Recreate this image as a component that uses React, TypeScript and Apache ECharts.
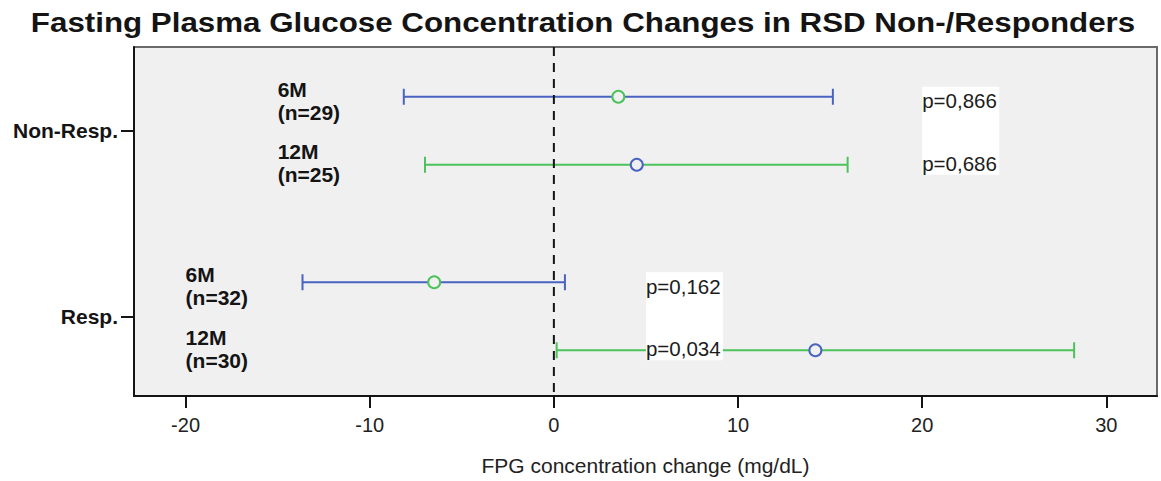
import React, { useEffect, useRef } from "react";
import * as echarts from "echarts";

// Groups (top to bottom) and follow-up periods
const GROUPS = ["Non-Resp.", "Resp."];
const PERIODS = ["6M", "12M"];
const SAMPLE_SIZE = [
  [29, 25],
  [32, 30],
];
// Mean FPG change with 95% CI bounds (mg/dL), per group and period
const MEAN_CHANGE = [
  [3.5, 4.5],
  [-6.5, 14.2],
];
const CI_LOWER = [
  [-8.15, -7.0],
  [-13.65, 0.15],
];
const CI_UPPER = [
  [15.15, 15.95],
  [0.6, 28.25],
];
const P_VALUES = [
  ["p=0,866", "p=0,686"],
  ["p=0,162", "p=0,034"],
];
const X_TICKS = [-20, -10, 0, 10, 20, 30];
const X_MIN = -22.8;
const X_MAX = 32.75;
// Where the period labels and p-value boxes sit, in axis units
const LABEL_AT = [-15, -20];
const PVALUE_AT = [20, 5];

const TITLE = "Fasting Plasma Glucose Concentration Changes in RSD Non-/Responders";
const FONT = "'Liberation Sans', Arial, Helvetica, sans-serif";
const BLUE = "#4a63c2";
const GREEN = "#4cc25a";
const INK = "#141414";
const ROW_OFFSET = 34;
const CAP = 8;

export default function App() {
  const ref = useRef<HTMLDivElement>(null);

  useEffect(() => {
    if (!ref.current) return;
    const chart = echarts.init(ref.current, undefined, { renderer: "svg" });

    const barData: number[][] = [];
    GROUPS.forEach((_, gi) =>
      PERIODS.forEach((__, pi) =>
        barData.push([CI_LOWER[gi][pi], CI_UPPER[gi][pi], MEAN_CHANGE[gi][pi], gi, pi])
      )
    );
    const noteData = GROUPS.map((_, gi) => [LABEL_AT[gi], PVALUE_AT[gi], gi]);

    const option: any = {
      animation: false,
      backgroundColor: "#ffffff",
      graphic: [
        {
          type: "text",
          x: 583,
          y: 23,
          scaleX: 1.16,
          style: {
            text: TITLE,
            fontSize: 27,
            fontWeight: "bold",
            fontFamily: FONT,
            fill: INK,
            align: "center",
            verticalAlign: "middle",
          },
        },
      ],
      grid: [
        {
          left: 134,
          right: 4,
          top: 47,
          bottom: 78,
          show: true,
          backgroundColor: "#f0f0f0",
          borderColor: "#6a6a6a",
          borderWidth: 2,
        },
        { left: 134, right: 4, top: 38, bottom: 72 },
      ],
      xAxis: [
        {
          type: "value",
          gridIndex: 0,
          min: X_MIN,
          max: X_MAX,
          splitLine: { show: false },
          axisLine: { show: true, onZero: false, lineStyle: { color: INK, width: 2 } },
          axisTick: {
            show: true,
            customValues: X_TICKS,
            length: 12,
            lineStyle: { color: INK, width: 2 },
          },
          axisLabel: {
            customValues: X_TICKS,
            fontSize: 20,
            fontFamily: FONT,
            color: "#222",
            margin: 19,
          },
          name: "FPG concentration change (mg/dL)",
          nameLocation: "middle",
          nameGap: 59,
          nameTextStyle: { fontSize: 21, fontFamily: FONT, color: "#222" },
        },
        { type: "value", gridIndex: 1, min: X_MIN, max: X_MAX, show: false },
      ],
      yAxis: [
        {
          type: "value",
          gridIndex: 0,
          min: 0,
          max: 1,
          splitLine: { show: false },
          axisLine: { show: true, onZero: false, lineStyle: { color: INK, width: 2 } },
          axisTick: { show: false },
          axisLabel: { show: false },
        },
        {
          type: "category",
          gridIndex: 1,
          data: GROUPS,
          inverse: true,
          axisLine: { show: false, onZero: false },
          axisTick: {
            show: true,
            alignWithLabel: true,
            length: 13,
            lineStyle: { color: INK, width: 2 },
          },
          axisLabel: {
            fontSize: 21,
            fontWeight: "bold",
            fontFamily: FONT,
            color: INK,
            margin: 16,
          },
          splitLine: { show: false },
        },
      ],
      series: [
        {
          // reference line at zero change
          type: "custom",
          xAxisIndex: 0,
          yAxisIndex: 0,
          z: 5,
          silent: true,
          data: [[0]],
          encode: { x: 0 },
          renderItem: (params: any, api: any) => {
            const cs = params.coordSys;
            const x = api.coord([api.value(0), 0])[0];
            return {
              type: "line",
              shape: { x1: x, y1: cs.y, x2: x, y2: cs.y + cs.height },
              style: { stroke: INK, lineWidth: 2, lineDash: [9, 7] },
            };
          },
        },
        {
          // confidence intervals with mean markers
          type: "custom",
          xAxisIndex: 1,
          yAxisIndex: 1,
          z: 3,
          silent: true,
          data: barData,
          encode: { x: [0, 1, 2], y: 3 },
          renderItem: (_params: any, api: any) => {
            const gi = api.value(3);
            const pi = api.value(4);
            const yc = api.coord([0, gi])[1] + (pi === 0 ? -ROW_OFFSET : ROW_OFFSET);
            const xl = api.coord([api.value(0), gi])[0];
            const xh = api.coord([api.value(1), gi])[0];
            const xm = api.coord([api.value(2), gi])[0];
            const lineColor = pi === 0 ? BLUE : GREEN;
            const markColor = pi === 0 ? GREEN : BLUE;
            const ls = { stroke: lineColor, lineWidth: 2 };
            return {
              type: "group",
              children: [
                { type: "line", shape: { x1: xl, y1: yc, x2: xh, y2: yc }, style: ls },
                { type: "line", shape: { x1: xl, y1: yc - CAP, x2: xl, y2: yc + CAP }, style: ls },
                { type: "line", shape: { x1: xh, y1: yc - CAP, x2: xh, y2: yc + CAP }, style: ls },
                {
                  type: "circle",
                  shape: { cx: xm, cy: yc, r: 6 },
                  style: { fill: "#f0f0f0", stroke: markColor, lineWidth: 2 },
                },
              ],
            };
          },
        },
        {
          // period labels and p-value boxes
          type: "custom",
          xAxisIndex: 1,
          yAxisIndex: 1,
          z: 6,
          silent: true,
          data: noteData,
          encode: { x: [0, 1], y: 2 },
          renderItem: (_params: any, api: any) => {
            const gi = api.value(2);
            const yc = api.coord([0, gi])[1];
            const y6 = yc - ROW_OFFSET;
            const y12 = yc + ROW_OFFSET;
            const lx = api.coord([api.value(0), gi])[0];
            const px = api.coord([api.value(1), gi])[0];
            const rows = [y6 + 4, y12 - 1.5];
            const children: any[] = [
              {
                type: "rect",
                shape: { x: px, y: y6 - 10, width: 77, height: y12 - y6 + 20 },
                style: { fill: "#ffffff" },
              },
            ];
            PERIODS.forEach((per, pi) => {
              children.push({
                type: "text",
                x: lx,
                y: rows[pi],
                style: {
                  text: `${per}\n(n=${SAMPLE_SIZE[gi][pi]})`,
                  fontSize: 21,
                  fontWeight: "bold",
                  fontFamily: FONT,
                  fill: INK,
                  align: "left",
                  verticalAlign: "middle",
                  lineHeight: 23,
                },
              });
              children.push({
                type: "text",
                x: px,
                y: rows[pi],
                style: {
                  text: P_VALUES[gi][pi],
                  fontSize: 20.5,
                  fontFamily: FONT,
                  fill: "#1c1c1c",
                  align: "left",
                  verticalAlign: "middle",
                },
              });
            });
            return { type: "group", children };
          },
        },
      ],
    };

    chart.setOption(option);
    return () => chart.dispose();
  }, []);

  return (
    <div
      ref={ref}
      style={{ position: "absolute", left: 0, top: 0, width: 1161, height: 481 }}
    />
  );
}
